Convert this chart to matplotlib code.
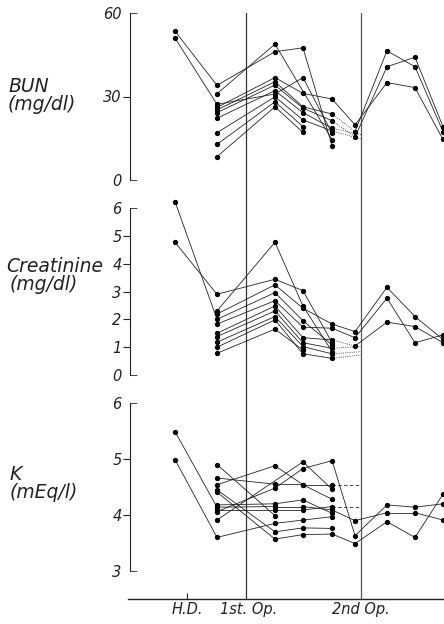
import numpy as np
import matplotlib.pyplot as plt
from matplotlib.ticker import FixedLocator, FixedFormatter

plt.rcParams['font.family'] = 'DejaVu Sans'
plt.rcParams['font.style'] = 'italic'

# sampling times (arbitrary time units along the x axis)
t = [0, 1.5, 3.57, 4.57, 5.61, 6.43, 7.57, 8.57, 9.57]
t_hd, t_op1, t_op2 = 0.43, 2.54, 6.64
n = None

# BUN (mg/dl), one row per patient
bun = [
    [53.5, 34.0, 46.1, 47.5, 12.3, n, n, n, n],
    [n, 31.0, 48.8, n, 14.4, n, n, n, n],
    [51.0, 27.2, 30.9, 36.8, 16.8, n, n, n, n],
    [n, 26.1, 36.8, 31.1, 29.1, 19.8, 35.0, 33.2, 14.6],
    [n, 25.2, 35.3, 26.3, 23.7, 17.4, 46.4, 40.7, 17.4],
    [n, 24.2, 34.1, 25.8, 21.3, 15.5, 40.7, 44.1, 19.2],
    [n, 22.2, 32.1, 24.2, 18.6, n, n, n, n],
    [n, 17.0, 29.9, 21.6, 17.6, n, n, n, n],
    [n, 12.8, 28.1, 19.2, n, n, n, n, n],
    [n, 8.4, 26.3, 17.1, n, n, n, n, n],
]
bun_dotted = [(4, 4), (5, 4)]          # (patient, column) segment drawn dotted
bun_ext = [(6, 16.3), (7, 14.8)]       # dotted run-out to 2nd Op.

# Creatinine (mg/dl)
cre = [
    [6.23, 2.0, 2.96, 1.95, 1.08, n, n, n, n],
    [4.77, 2.9, 3.44, 3.03, 1.16, n, n, n, n],
    [n, 2.3, 4.77, 2.48, 0.84, n, n, n, n],
    [n, 2.19, 3.24, 2.40, 1.83, 1.56, 3.15, 2.10, 1.28],
    [n, 1.83, 2.67, 1.72, 1.68, 1.34, 2.76, 1.16, 1.44],
    [n, 1.50, 2.48, 1.34, 1.26, 1.04, 1.90, 1.74, 1.16],
    [n, 1.38, 2.30, 1.16, 0.96, n, n, n, n],
    [n, 1.18, 2.10, 1.02, 0.76, n, n, n, n],
    [n, 1.00, 1.98, 0.76, 0.60, n, n, n, n],
    [n, 0.78, 1.65, 0.90, n, n, n, n, n],
]
cre_dotted = [(5, 4)]
cre_ext = [(6, 1.02), (7, 0.84), (8, 0.72)]

# K (mEq/l)
k = [
    [5.49, 4.14, 4.15, 4.15, 4.09, 3.90, 4.04, 4.04, 3.91],
    [4.99, 3.60, 3.85, 3.91, 3.97, n, n, n, n],
    [n, 4.90, 3.99, n, n, n, n, n, n],
    [n, 4.66, 4.55, 4.54, 4.54, n, n, n, n],
    [n, 4.54, 4.88, 4.54, 4.28, n, n, n, n],
    [n, 4.45, 3.70, 3.77, 3.76, n, n, n, n],
    [n, 4.41, 3.57, 3.65, 3.66, 3.49, 3.88, 3.60, 4.37],
    [n, 4.18, 4.20, 4.27, 4.03, n, n, n, n],
    [n, 4.09, 4.09, 4.09, 4.15, n, n, n, n],
    [n, 4.06, 4.48, 4.83, 4.97, 3.63, 4.18, 4.14, 4.20],
    [n, 3.91, n, 4.95, 4.46, n, n, n, n],
]
k_dotted = []
k_ext = [(3, 4.54), (8, 4.15)]

W, H = 444, 624
fig = plt.figure(figsize=(W / 100, H / 100), dpi=100)

x0, x1 = 130, 444        # pixel extent of the panels
px = 28.0                # pixels per time unit
xlim = ((x0 - 175) / px, (x1 - 175) / px)
ink = '#222222'


def fx(p):
    return p / W


def fy(p):
    return 1 - p / H


# background axes: operation lines and the time axis
bg = fig.add_axes([fx(128), fy(599), fx(x1 - 128), (599 - 13) / H])
bg.set_xlim((128 - 175) / px, xlim[1])
bg.set_ylim(0, 1)
for s in ['left', 'right', 'top']:
    bg.spines[s].set_visible(False)
bg.spines['bottom'].set_color(ink)
bg.spines['bottom'].set_linewidth(1.0)
bg.set_yticks([])
bg.axvline(t_op1, color='#333333', lw=0.9)
bg.axvline(t_op2, color='#555555', lw=0.9)
bg.set_xticks([t_hd, t_op1 + 0.1, t_op2], ['H.D.', '1st. Op.', '2nd Op.'])
bg.tick_params(axis='x', direction='in', length=4, pad=2, labelsize=10.5,
               color=ink, labelcolor=ink)
for tk in bg.xaxis.get_major_ticks()[1:]:
    tk.tick1line.set_visible(False)
bg.patch.set_alpha(0)


def panel(top, bot, ylo, yhi, mid, data, dotted, ext, ext_ls):
    ax = fig.add_axes([fx(x0), fy(bot), fx(x1 - x0), (bot - top) / H])
    ax.patch.set_alpha(0)
    ax.set_xlim(*xlim)
    ax.set_ylim(ylo, yhi)
    for s in ['right', 'top', 'bottom']:
        ax.spines[s].set_visible(False)
    ax.spines['left'].set_color(ink)
    ax.set_xticks([])
    ax.yaxis.set_major_locator(FixedLocator(mid))
    ax.yaxis.set_major_formatter(FixedFormatter([str(v) for v in mid]))
    ax.yaxis.set_minor_locator(FixedLocator([ylo, yhi]))
    ax.yaxis.set_minor_formatter(FixedFormatter([str(ylo), str(yhi)]))
    ax.tick_params(axis='y', which='major', direction='out', length=5,
                   pad=1, labelsize=10.5, color=ink, labelcolor=ink)
    ax.tick_params(axis='y', which='minor', direction='in', length=5,
                   pad=6, labelsize=10.5, color=ink, labelcolor=ink)
    for i, row in enumerate(data):
        cols = [j for j, v in enumerate(row) if v is not None]
        for a, b in zip(cols[:-1], cols[1:]):
            ls = ':' if (i, a) in dotted else '-'
            ax.plot([t[a], t[b]], [row[a], row[b]], ls=ls, color=ink,
                    lw=0.6, clip_on=False)
        ax.plot([t[j] for j in cols], [row[j] for j in cols], 'o',
                color='k', ms=2.8, clip_on=False)
    for i, v in ext:
        last = [j for j, w in enumerate(data[i]) if w is not None][-1]
        ax.plot([t[last], t_op2], [data[i][last], v], ls=ext_ls,
                color=ink, lw=0.6, clip_on=False)
    return ax


panel(13, 180, 0, 60, [30], bun, bun_dotted, bun_ext, ':')
panel(208, 375, 0, 6, [1, 2, 3, 4, 5], cre, cre_dotted, cre_ext, ':')
panel(403, 571, 3, 6, [4, 5], k, k_dotted, k_ext, (0, (4, 3)))

lab = dict(fontsize=13.5, color=ink, va='center', ha='left')
fig.text(fx(8), fy(86), 'BUN', **lab)
fig.text(fx(8), fy(104), '(mg/dl)', **lab)
fig.text(fx(6), fy(266), 'Creatinine', **lab)
fig.text(fx(10), fy(285), '(mg/dl)', **lab)
fig.text(fx(10), fy(475), 'K', **lab)
fig.text(fx(10), fy(493), '(mEq/l)', **lab)

fig.savefig('out.png', dpi=100)
